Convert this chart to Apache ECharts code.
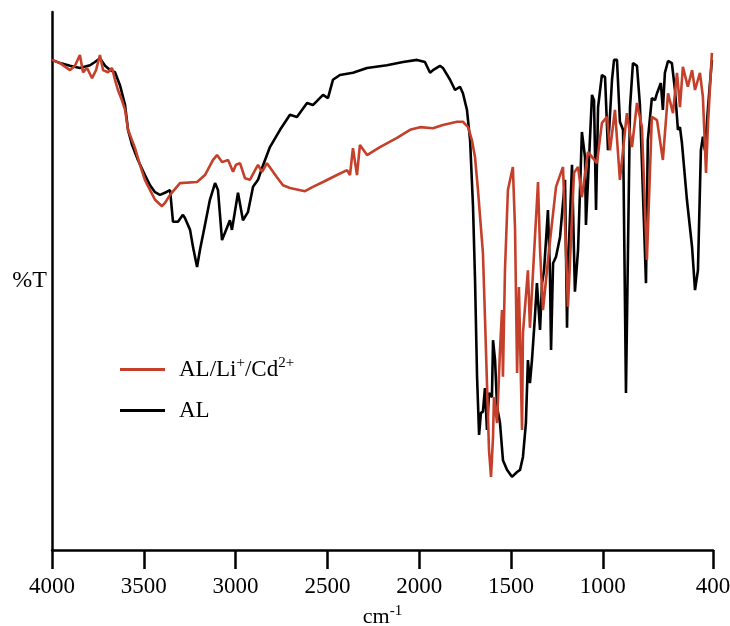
<!DOCTYPE html>
<html>
<head>
<meta charset="utf-8">
<script src="https://cdn.jsdelivr.net/npm/echarts@6/dist/echarts.min.js"></script>
<style>
  html, body { margin: 0; padding: 0; background: #fff; }
  #chart { width: 730px; height: 626px; }
</style>
</head>
<body>
<div id="chart"></div>
<script>
// FTIR spectra, wavenumber (cm-1) vs %T (arbitrary scale 0-100)
var tickValues = [4000, 3500, 3000, 2500, 2000, 1500, 1000, 400];

var alWave = [4000, 3956, 3902, 3848, 3793, 3766, 3739, 3711, 3684, 3657, 3630, 3602, 3586, 3564, 3532, 3494, 3466, 3439, 3412, 3385,
  3357, 3341, 3314, 3287, 3276, 3248, 3232, 3210, 3194, 3167, 3140, 3112, 3096, 3074, 3031, 3020, 2987, 2960, 2933, 2905,
  2878, 2856, 2813, 2758, 2704, 2666, 2611, 2579, 2524, 2497, 2470, 2432, 2361, 2284, 2176, 2088, 2012, 1969, 1941, 1925,
  1887, 1871, 1832, 1805, 1778, 1762, 1740, 1723, 1707, 1696, 1685, 1674, 1664, 1653, 1642, 1631, 1620, 1604, 1598, 1587,
  1576, 1560, 1544, 1522, 1495, 1467, 1451, 1435, 1419, 1408, 1397, 1386, 1370, 1359, 1342, 1331, 1320, 1299, 1288, 1282,
  1271, 1255, 1233, 1206, 1195, 1190, 1168, 1152, 1135, 1114, 1097, 1092, 1059, 1048, 1037, 1026, 1005, 988, 972, 950,
  939, 923, 907, 890, 874, 863, 852, 836, 814, 798, 787, 765, 755, 733, 716, 705, 684, 673, 662, 645,
  624, 607, 591, 580, 569, 542, 514, 498, 482, 466, 455, 444, 427, 406];
var alT = [91.1, 90.5, 90.0, 89.6, 90.1, 90.7, 91.4, 90.0, 89.2, 88.8, 86.4, 82.7, 78.1, 75.3, 72.5, 69.7, 67.8, 66.5, 66.0, 66.4,
  66.9, 61.0, 61.0, 62.3, 61.7, 59.5, 56.3, 52.6, 55.8, 60.4, 65.1, 68.2, 66.9, 57.6, 61.3, 59.5, 66.4, 61.3, 62.8, 67.5,
  68.8, 71.0, 74.9, 78.1, 80.9, 80.5, 83.1, 82.7, 84.6, 84.0, 87.4, 88.3, 88.7, 89.6, 90.1, 90.7, 91.1, 90.7, 88.7, 89.2,
  90.0, 89.6, 87.4, 85.5, 86.1, 84.9, 81.8, 76.2, 63.8, 50.2, 32.2, 21.4, 25.5, 25.7, 30.1, 22.3, 29.2, 28.4, 39.0, 35.3,
  26.6, 23.6, 16.7, 14.9, 13.6, 14.5, 14.9, 17.3, 23.6, 35.3, 31.0, 35.3, 43.3, 49.6, 40.9, 49.6, 52.0, 63.2, 51.5, 37.2,
  53.3, 54.5, 58.2, 68.8, 41.3, 52.0, 71.6, 48.0, 55.8, 77.7, 73.0, 60.4, 84.6, 83.6, 63.2, 82.3, 88.3, 87.9, 74.3, 87.4,
  91.1, 91.1, 79.6, 78.1, 29.2, 55.8, 82.3, 90.5, 90.0, 82.7, 71.9, 49.6, 76.2, 84.0, 83.6, 84.9, 86.8, 81.8, 88.7, 90.9,
  90.5, 85.5, 78.1, 78.6, 75.6, 65.1, 56.3, 48.3, 52.0, 74.3, 76.8, 74.3, 82.3, 91.1];

var cdWave = [4000, 3956, 3902, 3875, 3848, 3831, 3809, 3782, 3760, 3739, 3722, 3695, 3673, 3657, 3641, 3619, 3602, 3586, 3548, 3521,
  3494, 3466, 3439, 3401, 3385, 3357, 3303, 3210, 3167, 3123, 3101, 3074, 3041, 3014, 2998, 2976, 2949, 2922, 2894, 2878,
  2856, 2829, 2802, 2775, 2742, 2704, 2622, 2579, 2524, 2448, 2393, 2377, 2361, 2339, 2323, 2284, 2214, 2121, 2050, 1996,
  1925, 1871, 1794, 1762, 1734, 1713, 1696, 1680, 1653, 1642, 1631, 1620, 1609, 1598, 1593, 1576, 1560, 1549, 1544, 1533,
  1517, 1490, 1478, 1467, 1457, 1440, 1435, 1408, 1397, 1353, 1342, 1326, 1293, 1255, 1217, 1190, 1157, 1135, 1114, 1081,
  1032, 1005, 977, 961, 934, 907, 869, 841, 814, 787, 760, 733, 705, 673, 645, 618, 596, 580, 564, 537,
  514, 498, 471, 455, 438, 427, 406];
var cdT = [91.1, 90.5, 89.2, 90.0, 92.0, 88.8, 89.6, 87.7, 89.2, 92.0, 89.2, 88.8, 89.6, 87.4, 85.5, 83.6, 81.8, 78.1, 74.7, 71.6,
  68.8, 66.9, 65.1, 63.9, 64.5, 66.0, 68.2, 68.4, 69.7, 72.5, 73.4, 72.1, 72.5, 70.3, 71.6, 71.9, 69.1, 68.8, 70.6, 71.6,
  70.3, 71.9, 70.6, 69.3, 67.8, 67.3, 66.7, 67.5, 68.4, 69.7, 70.6, 69.7, 74.7, 69.7, 75.3, 73.4, 74.9, 76.6, 78.1, 78.6,
  78.4, 79.0, 79.6, 79.6, 78.6, 76.2, 73.0, 66.9, 55.2, 43.3, 31.0, 18.6, 13.6, 21.0, 28.4, 23.6, 37.2, 44.6, 32.2, 52.0,
  66.9, 71.2, 59.5, 32.9, 48.9, 22.3, 40.3, 52.0, 41.3, 68.4, 55.8, 44.6, 55.8, 67.5, 71.2, 45.2, 70.1, 71.2, 65.6, 74.0,
  71.9, 79.4, 80.5, 74.3, 81.8, 68.8, 81.2, 74.9, 83.1, 78.6, 53.9, 80.5, 79.9, 72.5, 84.9, 81.2, 88.7, 82.3, 89.8, 86.1,
  89.2, 85.5, 88.7, 84.2, 70.1, 79.4, 92.4];

var serif = '"Liberation Serif", "Times New Roman", serif';
var supStyle = { fontFamily: serif, fontSize: 15, verticalAlign: 'top', padding: [0, 0, 12, 0], color: '#000' };

function pairs(xs, ys) {
  var out = [];
  for (var i = 0; i < xs.length; i++) {
    out.push([xs[i], ys[i]]);
  }
  return out;
}

var chart = echarts.init(document.getElementById('chart'));

var option = {
  animation: false,
  backgroundColor: '#fff',
  grid: { left: 52, right: 17, top: 12, bottom: 76, outerBoundsMode: 'none', containLabel: false },
  legend: {
    orient: 'vertical',
    left: 120,
    top: 356,
    padding: 0,
    icon: 'rect',
    itemWidth: 45,
    itemHeight: 3,
    itemGap: 18,
    data: ['AL/Li+/Cd2+', 'AL'],
    formatter: function (name) {
      if (name === 'AL') return 'AL';
      return 'AL/Li{sup|+}/Cd{sup|2+}';
    },
    textStyle: {
      fontFamily: serif,
      fontSize: 23,
      color: '#000',
      padding: [0, 0, 0, 9],
      rich: { sup: supStyle }
    }
  },
  xAxis: {
    type: 'value',
    min: 400,
    max: 4000,
    inverse: true,
    name: 'cm{sup|-1}',
    nameLocation: 'middle',
    nameGap: 54,
    nameTextStyle: {
      fontFamily: serif,
      fontSize: 22,
      color: '#000',
      rich: { sup: supStyle }
    },
    axisLine: { lineStyle: { color: '#000', width: 2.5 } },
    axisTick: { show: true, length: 19, lineStyle: { color: '#000', width: 2.5 }, customValues: tickValues },
    axisLabel: {
      color: '#000', fontFamily: serif, fontSize: 23, margin: 25, customValues: tickValues,
      formatter: function (v) { return String(v); }
    },
    splitLine: { show: false }
  },
  yAxis: {
    type: 'value',
    min: 0,
    max: 100,
    name: '%T',
    nameLocation: 'middle',
    nameRotate: 0,
    nameGap: 5,
    nameTextStyle: { fontFamily: serif, fontSize: 24, color: '#000' },
    axisLine: { show: true, lineStyle: { color: '#000', width: 2.5 } },
    axisTick: { show: false },
    axisLabel: { show: false },
    splitLine: { show: false }
  },
  series: [
    {
      name: 'AL',
      type: 'line',
      symbol: 'none',
      data: pairs(alWave, alT),
      lineStyle: { color: '#000', width: 2.6 },
      itemStyle: { color: '#000' }
    },
    {
      name: 'AL/Li+/Cd2+',
      type: 'line',
      symbol: 'none',
      data: pairs(cdWave, cdT),
      lineStyle: { color: '#c4402a', width: 2.6 },
      itemStyle: { color: '#c4402a' }
    }
  ]
};

chart.setOption(option);
</script>
</body>
</html>
